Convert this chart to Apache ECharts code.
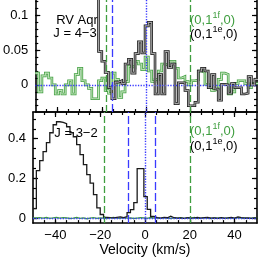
<!DOCTYPE html>
<html><head><meta charset="utf-8">
<script src="https://cdn.jsdelivr.net/npm/echarts@6/dist/echarts.min.js"></script>
<style>html,body{margin:0;padding:0;background:#fff}#c{width:258px;height:258px}</style>
</head><body><div id="c"></div>
<script>
// Velocity channels: left edge of first bin and bin width (km/s)
const BIN_START = -50, BIN_WIDTH = 1.5;

// J = 4-3 panel (black clipped above the top for v < -22)
const topBlack = [0.20,0.45,0.60,0.70,0.78,0.84,0.88,0.90,0.89,0.86,0.82,0.76,0.68,0.60,0.50,0.40,0.30,0.21,0.14,
  0.048,0.034,0.018,-0.004,-0.020,0.004,0.006,0.002,0.030,0.037,0.017,0.045,0.062,0.046,0.085,0.090,0.045,-0.013,0.015,-0.013,0.048,
  0.025,0.030,-0.027,0.003,0.003,-0.008,-0.030,-0.030,-0.025,0.020,0.024,0.020,-0.004,0.015,-0.006,-0.022,0.001,0.000,-0.012,0.002,
  -0.004,-0.004,-0.013,-0.012,0.012,0.000,0.008];
const topGreen = [0.017,-0.010,0.013,0.017,0.010,0.000,-0.013,-0.008,-0.013,0.000,0.006,-0.013,0.015,0.024,0.006,0.000,-0.005,-0.020,-0.020,0.006,
  0.010,-0.008,-0.012,0.017,0.008,-0.018,-0.010,0.005,0.027,0.025,0.034,0.030,0.022,0.040,0.020,0.005,0.008,0.020,0.030,0.028,
  0.034,0.034,0.024,0.010,0.012,0.005,0.000,0.006,0.007,0.020,0.018,0.001,-0.003,-0.008,-0.006,0.008,0.017,0.015,-0.013,-0.010,
  0.002,0.006,0.006,0.002,-0.004,0.002,0.002];

// J = 3-2 panel
const botBlack = [0.05,0.24,0.29,0.335,0.38,0.43,0.47,0.485,0.482,0.475,0.46,0.43,0.41,0.37,0.32,0.27,0.22,0.177,0.12,0.053,
  0.02,0.006,0.004,0.003,0.006,0.008,0.004,0.010,0.030,0.045,0.080,0.250,0.250,0.110,0.046,0.010,0.004,0.002,0.006,0.004,
  0.012,0.004,0.002,0.003,0.001,0.004,0.002,0.003,0.005,0.002,0.004,0.006,0.002,0.003,0.001,0.004,0.002,0.003,0.006,0.002,
  0.008,0.004,0.002,0.003,0.001,0.003,0.002];
const botGreen = [0.003,0.004,0.002,0.005,0.001,0.003,0.006,0.002,0.004,0.003,0.000,0.002,0.005,0.001,0.003,-0.001,0.002,0.004,0.001,0.003,
  0.002,0.000,0.003,0.005,0.002,0.001,0.004,0.002,0.003,0.000,0.002,0.004,0.003,0.001,0.005,0.002,0.003,0.001,0.004,0.002,
  0.000,0.003,0.002,0.004,0.001,0.003,0.002,0.005,0.001,0.002,0.004,0.002,0.000,0.003,0.002,0.004,0.001,0.003,0.002,0.001,
  0.004,0.002,0.003,0.001,0.002,0.003,0.002];

// Tick labels / reference lines
const xMajorTicks = [-40,-20,0,20,40];
const topYTicks = [0, 0.05, 0.1];
const botYTicks = [0, 0.2, 0.4];
const topGreenLines = [-18, 20];
const topBlueLines = [-15.3];
const botGreenLines = [-18, 20];
const botBlueLines = [-7.6, 4.5];
const systemicLine = [0];

function hist(vals){
  const out = vals.map((v,i)=>[BIN_START+i*BIN_WIDTH, v]);
  out.push([BIN_START+vals.length*BIN_WIDTH, vals[vals.length-1]]);
  return out;
}
function steps(a,b,s){ const r=[]; for(let v=a; v<=b+1e-9; v+=s) r.push(Math.round(v*1000)/1000); return r; }
const xMinor = steps(-45,45,5);
const topMinor = steps(-0.03,0.12,0.01);
const botMinor = steps(0,0.5,0.05);

const FONT = '"Liberation Sans", Arial, Helvetica, sans-serif';
const BLK = '#000';
const GREEN = '#3f9e3f', GREEN_L = '#c2e3bb';
const BLUE = '#3a3aff';

const TOP = {min:-0.039, max:0.1222};
const BOT = {min:-0.023, max:0.534};

function xAx(grid, pos, ticks, len, line, labels){
  return {type:'value', gridIndex:grid, position:pos, min:-50, max:50,
    axisLine:{show:line, onZero:false, lineStyle:{color:BLK, width:1.6}},
    axisTick:{show:true, inside:true, length:len, customValues:ticks, lineStyle:{color:BLK, width:1.2}},
    axisLabel: labels ? {show:true, customValues:xMajorTicks, margin:6, fontSize:13, color:BLK, fontFamily:FONT,
        formatter:v=>String(v).replace('-', '\u2212')} : {show:false},
    splitLine:{show:false}};
}
function yAx(grid, pos, rng, ticks, len, line, labels){
  return {type:'value', gridIndex:grid, position:pos, min:rng.min, max:rng.max,
    axisLine:{show:line, onZero:false, lineStyle:{color:BLK, width:1.6}},
    axisTick:{show:true, inside:true, length:len, customValues:ticks, lineStyle:{color:BLK, width:1.2}},
    axisLabel: labels ? {show:true, customValues:labels, margin:7, fontSize:13, color:BLK, fontFamily:FONT} : {show:false},
    splitLine:{show:false}};
}

function vlines(greens, blues, dotted){
  const d=[];
  greens.forEach(v=>d.push({xAxis:v, lineStyle:{color:GREEN, type:[7,3], width:1.3}}));
  blues.forEach(v=>d.push({xAxis:v, lineStyle:{color:BLUE, type:[8,3], width:1.3}}));
  dotted.forEach(v=>d.push({xAxis:v, lineStyle:{color:BLUE, type:[1.3,1.4], width:1.4}}));
  d.push({yAxis:0, lineStyle:{color:BLUE, type:[1.3,1.4], width:1.4}});
  return {symbol:['none','none'], silent:true, animation:false, label:{show:false}, data:d};
}

function line(xi, yi, data, color, width, z, extra){
  return Object.assign({type:'line', xAxisIndex:xi, yAxisIndex:yi, step:'end', data:data, symbol:'none', showSymbol:false,
    silent:true, animation:false, clip:true, z:z, lineStyle:{color:color, width:width, join:'miter'}}, extra||{});
}

const chart = echarts.init(document.getElementById('c'), null, {renderer:'canvas'});
chart.setOption({
  animation:false,
  grid:[{left:33, right:1, top:-3, height:115}, {left:33, right:1, top:112, height:112}],
  xAxis:[
    xAx(0,'bottom',xMajorTicks,5,true,false),
    xAx(0,'bottom',xMinor,3,false,false),
    Object.assign(xAx(1,'bottom',xMajorTicks,5,true,true),{name:'Velocity (km/s)', nameLocation:'middle', nameGap:19,
      nameTextStyle:{fontSize:14, color:BLK, fontFamily:FONT}}),
    xAx(1,'bottom',xMinor,3,false,false),
    xAx(1,'top',xMajorTicks,5,true,false),
    xAx(1,'top',xMinor,3,false,false)
  ],
  yAxis:[
    yAx(0,'left',TOP,topYTicks,5,true,topYTicks),
    yAx(0,'left',TOP,topMinor,3,false,null),
    yAx(0,'right',TOP,topYTicks,5,true,null),
    yAx(0,'right',TOP,topMinor,3,false,null),
    yAx(1,'left',BOT,botYTicks,5,true,botYTicks),
    yAx(1,'left',BOT,botMinor,3,false,null),
    yAx(1,'right',BOT,botYTicks,5,true,null),
    yAx(1,'right',BOT,botMinor,3,false,null)
  ],
  series:[
    line(0,0,hist(topGreen),GREEN,2.6,2,{markLine:vlines(topGreenLines, topBlueLines, systemicLine)}),
    line(0,0,hist(topGreen),GREEN_L,1.1,3),
    line(0,0,hist(topBlack),'#161616',2.6,4),
    line(0,0,hist(topBlack),'#a6a6a6',1.1,5),
    line(2,4,hist(botGreen),GREEN,1.3,2,{markLine:vlines(botGreenLines, botBlueLines, systemicLine)}),
    line(2,4,hist(botBlack),'#1a1a1a',1.3,4)
  ],
  graphic:[
    {type:'text', x:77, y:20, style:{text:'RV Aqr', font:'13px '+FONT, fill:BLK, align:'center', verticalAlign:'middle'}},
    {type:'text', x:75, y:33, style:{text:'J = 4\u22123', font:'13px '+FONT, fill:BLK, align:'center', verticalAlign:'middle'}},
    {type:'text', x:76, y:133, style:{text:'J = 3\u22122', font:'13px '+FONT, fill:BLK, align:'center', verticalAlign:'middle'}},
    {type:'text', x:190, y:20, style:{text:'(0,1{s|1f},0)', font:'13px '+FONT, fill:GREEN, align:'left', verticalAlign:'middle',
      rich:{s:{fontSize:9, fontFamily:FONT, fill:GREEN, padding:[0,0,9,0]}}}},
    {type:'text', x:190, y:34, style:{text:'(0,1{s|1e},0)', font:'13px '+FONT, fill:BLK, align:'left', verticalAlign:'middle',
      rich:{s:{fontSize:9, fontFamily:FONT, fill:BLK, padding:[0,0,9,0]}}}},
    {type:'text', x:190, y:131, style:{text:'(0,1{s|1f},0)', font:'13px '+FONT, fill:GREEN, align:'left', verticalAlign:'middle',
      rich:{s:{fontSize:9, fontFamily:FONT, fill:GREEN, padding:[0,0,9,0]}}}},
    {type:'text', x:190, y:146, style:{text:'(0,1{s|1e},0)', font:'13px '+FONT, fill:BLK, align:'left', verticalAlign:'middle',
      rich:{s:{fontSize:9, fontFamily:FONT, fill:BLK, padding:[0,0,9,0]}}}}
  ]
});
</script></body></html>
